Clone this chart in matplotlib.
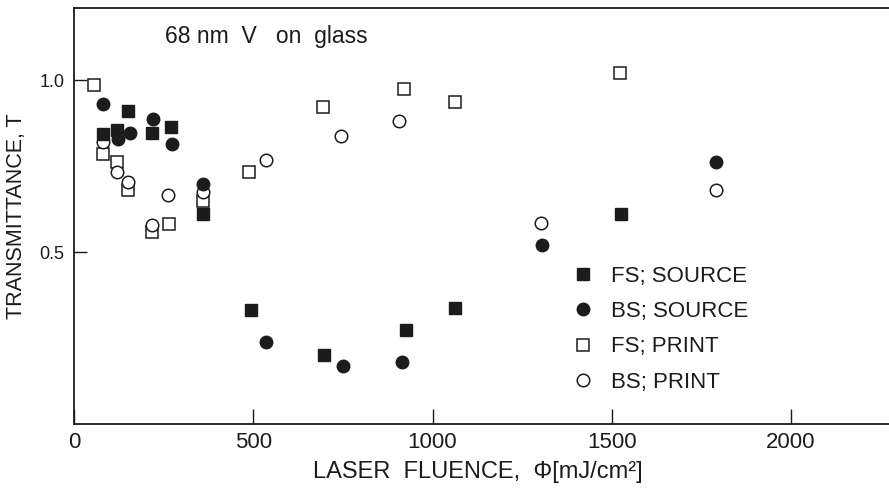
import matplotlib
matplotlib.use("Agg")
import matplotlib.pyplot as plt

plt.rcParams['font.family'] = ['Liberation Sans', 'DejaVu Sans']

# laser fluence (mJ/cm^2) and transmittance T for each film / side
fs_source_x = [80, 121, 151, 217, 270, 361, 494, 697, 926, 1063, 1526]
fs_source_t = [0.843, 0.855, 0.910, 0.845, 0.864, 0.612, 0.331, 0.200, 0.273, 0.336, 0.610]

bs_source_x = [80, 124, 156, 219, 272, 361, 535, 750, 915, 1306, 1791]
bs_source_t = [0.932, 0.829, 0.847, 0.887, 0.814, 0.698, 0.238, 0.169, 0.180, 0.520, 0.762]

fs_print_x = [57, 80, 121, 151, 217, 266, 361, 488, 695, 920, 1063, 1523]
fs_print_t = [0.985, 0.785, 0.762, 0.680, 0.559, 0.581, 0.650, 0.733, 0.922, 0.974, 0.937, 1.021]

bs_print_x = [80, 119, 151, 217, 263, 361, 535, 744, 906, 1302, 1791]
bs_print_t = [0.820, 0.733, 0.704, 0.578, 0.666, 0.675, 0.769, 0.837, 0.881, 0.585, 0.680]

x_ticks = [0, 500, 1000, 1500, 2000]
y_ticks = [0.5, 1.0]

ink = '#1c1c1c'

fig = plt.figure(figsize=(8.89, 4.96), dpi=100)
# the frame runs past the right edge, so only three sides show
ax = fig.add_axes([74 / 889, 72 / 496, 2500 * 0.3585 / 889, 416 / 496])

ms = 9
ax.plot(fs_print_x, fs_print_t, 's', ms=ms - 0.5, mfc='white', mec=ink, mew=1.1,
        label='FS; PRINT', zorder=3)
ax.plot(bs_print_x, bs_print_t, 'o', ms=ms, mfc='white', mec=ink, mew=1.1,
        label='BS; PRINT', zorder=3)
ax.plot(fs_source_x, fs_source_t, 's', ms=ms - 0.5, mfc=ink, mec=ink,
        label='FS; SOURCE', zorder=4)
ax.plot(bs_source_x, bs_source_t, 'o', ms=ms, mfc=ink, mec=ink,
        label='BS; SOURCE', zorder=4)

ax.set_xlim(0, 2500)
ax.set_ylim(0, 1.21)
ax.set_xticks(x_ticks)
ax.set_yticks(y_ticks)
ax.set_yticklabels([f'{v:.1f}' for v in y_ticks])
ax.tick_params(axis='x', direction='in', length=11, width=1.0, color=ink,
               labelsize=16, pad=6, labelcolor=ink)
ax.tick_params(axis='y', direction='in', length=9, width=1.0, color=ink,
               labelsize=13, pad=7, labelcolor=ink)
for side in ax.spines.values():
    side.set_color(ink)
    side.set_linewidth(1.3)

ax.set_xlabel('LASER  FLUENCE,  \u03a6[mJ/cm\u00b2]', fontsize=17, color=ink)
ax.xaxis.set_label_coords((478 - 74) / 896, -0.09)
ax.set_ylabel('TRANSMITTANCE, T', fontsize=15.5, color=ink, labelpad=9)

ax.text(254, 1.128, '68 nm  V   on  glass', fontsize=16.5, color=ink, va='center')

handles, labels = ax.get_legend_handles_labels()
order = [2, 3, 0, 1]
ax.legend([handles[i] for i in order], [labels[i] for i in order],
          loc='upper left', bbox_to_anchor=(572 / 889, 1 - 266 / 496),
          bbox_transform=fig.transFigure, frameon=False, fontsize=16,
          borderpad=0, borderaxespad=0, handlelength=1.0, handletextpad=0.76,
          labelspacing=0.64, labelcolor=ink)

fig.savefig('out.png', dpi=100)
